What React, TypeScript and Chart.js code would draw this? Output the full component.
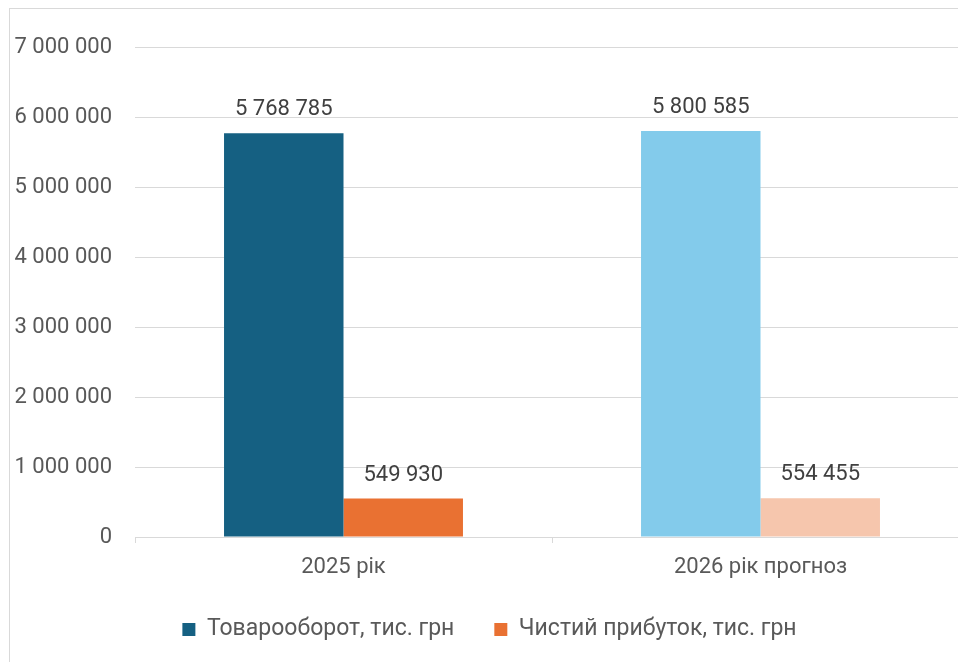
import React, { useEffect, useRef } from "react";
import { Chart, registerables } from "chart.js";

Chart.register(...registerables);

const categories = ["2025 рік", "2026 рік прогноз"];
const seriesNames = ["Товарооборот, тис. грн", "Чистий прибуток, тис. грн"];
const turnover = [5768785, 5800585];
const profit = [549930, 554455];
const turnoverColors = ["#156082", "#83CBEB"];
const profitColors = ["#E97132", "#F6C6AD"];
const yMin = 0;
const yMax = 7000000;
const yStep = 1000000;

const fmt = (n: number) => String(Math.round(n)).replace(/\B(?=(\d{3})+(?!\d))/g, " ");

const FONT = "Roboto";

const dataLabelPlugin = {
  id: "dataLabels",
  afterDatasetsDraw(chart: any) {
    const ctx = chart.ctx;
    ctx.save();
    ctx.font = `22px ${FONT}`;
    ctx.fillStyle = "#404040";
    ctx.textAlign = "center";
    ctx.textBaseline = "alphabetic";
    chart.data.datasets.forEach((ds: any, di: number) => {
      const meta = chart.getDatasetMeta(di);
      meta.data.forEach((el: any, i: number) => {
        ctx.fillText(fmt(ds.data[i]), el.x, el.y - 18);
      });
    });
    ctx.restore();
  },
};

export default function App() {
  const ref = useRef<HTMLCanvasElement | null>(null);
  useEffect(() => {
    if (!ref.current) return;
    const chart = new Chart(ref.current, {
      type: "bar",
      data: {
        labels: categories,
        datasets: [
          {
            label: seriesNames[0],
            data: turnover,
            backgroundColor: turnoverColors,
            categoryPercentage: 0.573,
            barPercentage: 1,
          },
          {
            label: seriesNames[1],
            data: profit,
            backgroundColor: profitColors,
            categoryPercentage: 0.573,
            barPercentage: 1,
          },
        ],
      },
      options: {
        responsive: false,
        animation: false,
        devicePixelRatio: 1,
        layout: { padding: { top: 38, left: 0, right: 0, bottom: 0 } },
        scales: {
          x: {
            grid: {
              display: true,
              drawOnChartArea: false,
              drawTicks: true,
              tickLength: 6,
              color: "#d9d9d9",
              offset: true,
            },
            border: { display: true, color: "#d9d9d9", width: 1 },
            ticks: {
              padding: 11,
              color: "#595959",
              font: { family: FONT, size: 22 },
            },
            afterFit(scale: any) {
              scale.height = 41;
            },
          },
          y: {
            min: yMin,
            max: yMax,
            grid: { color: "#d9d9d9", drawTicks: false, lineWidth: 1 },
            border: { display: false },
            ticks: {
              stepSize: yStep,
              padding: 23,
              color: "#595959",
              font: { family: FONT, size: 22 },
              callback: (v: any) => fmt(Number(v)),
            },
            afterFit(scale: any) {
              scale.width = 125;
            },
          },
        },
        plugins: {
          tooltip: { enabled: false },
          legend: {
            position: "bottom",
            labels: {
              boxWidth: 13,
              boxHeight: 13,
              padding: 40,
              color: "#595959",
              font: { family: FONT, size: 23 },
              generateLabels: () =>
                seriesNames.map((name, i) => ({
                  text: name,
                  fillStyle: i === 0 ? turnoverColors[0] : profitColors[0],
                  strokeStyle: i === 0 ? turnoverColors[0] : profitColors[0],
                  lineWidth: 0,
                  hidden: false,
                  datasetIndex: i,
                  fontColor: "#595959",
                })),
            },
          },
        },
      },
      plugins: [dataLabelPlugin],
    });
    return () => chart.destroy();
  }, []);

  return (
    <div
      style={{
        position: "fixed",
        left: 0,
        top: 0,
        width: 958,
        height: 662,
        overflow: "hidden",
        background: "#fff",
      }}
    >
      <div
        style={{
          position: "absolute",
          left: 9,
          top: 8,
          width: 1000,
          height: 1000,
          borderLeft: "1px solid #d9d9d9",
          borderTop: "1px solid #d9d9d9",
        }}
      >
        <canvas ref={ref} width={959} height={642} style={{ display: "block", width: 959, height: 642 }} />
      </div>
    </div>
  );
}
